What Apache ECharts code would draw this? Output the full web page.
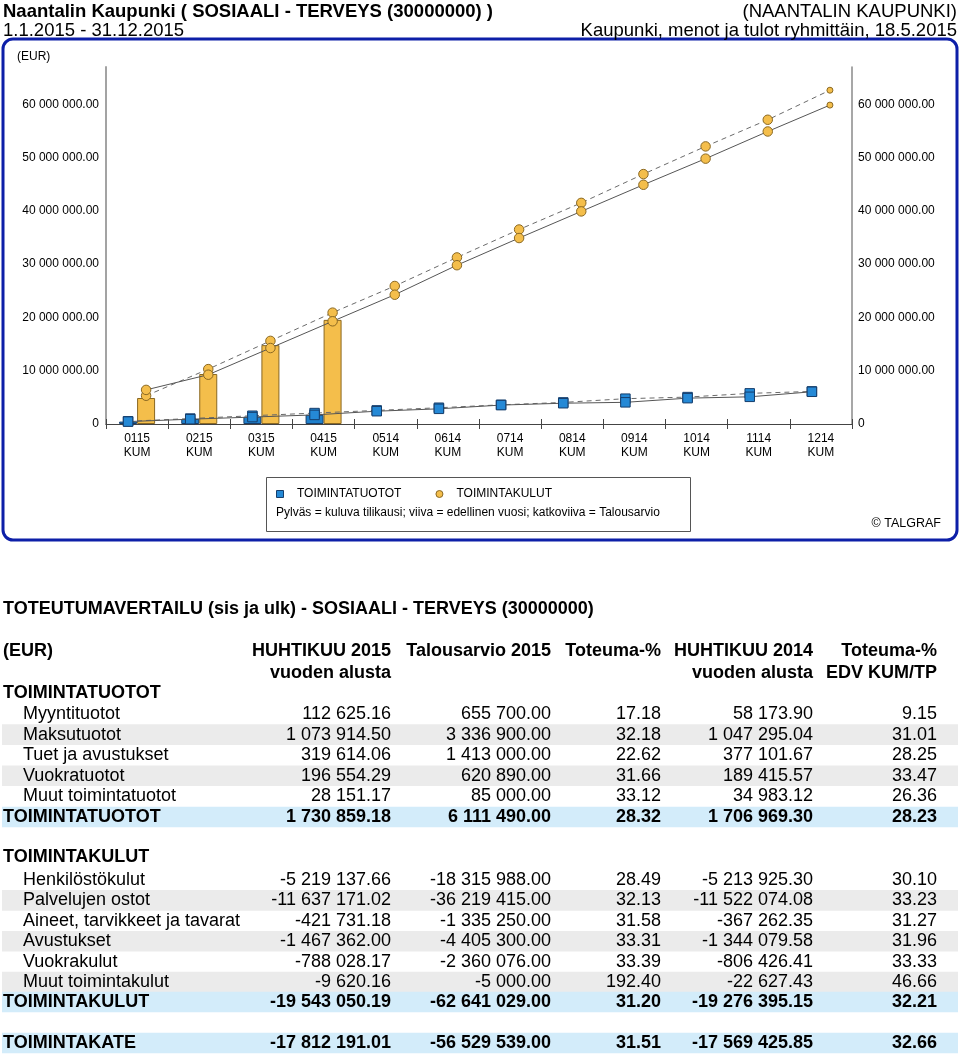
<!DOCTYPE html>
<html>
<head>
<meta charset="utf-8">
<script src="https://cdn.jsdelivr.net/npm/echarts@6/dist/echarts.min.js"></script>
<style>
html,body{margin:0;padding:0;background:#fff;}
#chart{width:960px;height:1058px;}
</style>
</head>
<body>
<div id="chart"></div>
<script>
// ---------- chart data ----------
const months = ['0115','0215','0315','0415','0514','0614','0714','0814','0914','1014','1114','1214'];
const tuotot2015 = [450000, 940000, 1370000, 1730859];
const kulut2015 = [4880000, 9380000, 14800000, 19543050];
const tuotot2014 = [450000, 900000, 1300000, 1706969, 2400000, 2850000, 3550000, 3900000, 4070000, 4850000, 5100000, 6047000];
const tuototTA = [510000, 1020000, 1550000, 2050000, 2550000, 3050000, 3600000, 4050000, 4750000, 5050000, 5750000, 6111490];
const kulut2014 = [6400000, 9250000, 14260000, 19276395, 24260000, 29800000, 34900000, 39900000, 44900000, 49800000, 54900000, 59850000];
const kulutTA = [5300000, 10300000, 15600000, 20900000, 25900000, 31260000, 36500000, 41500000, 46900000, 52100000, 57100000, 62641029];

// ---------- table data ----------
const headRow1 = ['(EUR)', 'HUHTIKUU 2015', 'Talousarvio 2015', 'Toteuma-%', 'HUHTIKUU 2014', 'Toteuma-%'];
const headRow2 = ['', 'vuoden alusta', '', '', 'vuoden alusta', 'EDV KUM/TP'];
const tuototLabels = ['Myyntituotot', 'Maksutuotot', 'Tuet ja avustukset', 'Vuokratuotot', 'Muut toimintatuotot'];
const tuototValues = [
  [112625.16, 655700.00, 17.18, 58173.90, 9.15],
  [1073914.50, 3336900.00, 32.18, 1047295.04, 31.01],
  [319614.06, 1413000.00, 22.62, 377101.67, 28.25],
  [196554.29, 620890.00, 31.66, 189415.57, 33.47],
  [28151.17, 85000.00, 33.12, 34983.12, 26.36]
];
const tuototTotal = [1730859.18, 6111490.00, 28.32, 1706969.30, 28.23];
const kulutLabels = ['Henkilöstökulut', 'Palvelujen ostot', 'Aineet, tarvikkeet ja tavarat', 'Avustukset', 'Vuokrakulut', 'Muut toimintakulut'];
const kulutValues = [
  [-5219137.66, -18315988.00, 28.49, -5213925.30, 30.10],
  [-11637171.02, -36219415.00, 32.13, -11522074.08, 33.23],
  [-421731.18, -1335250.00, 31.58, -367262.35, 31.27],
  [-1467362.00, -4405300.00, 33.31, -1344079.58, 31.96],
  [-788028.17, -2360076.00, 33.39, -806426.41, 33.33],
  [-9620.16, -5000.00, 192.40, -22627.43, 46.66]
];
const kulutTotal = [-19543050.19, -62641029.00, 31.20, -19276395.15, 32.21];
const kateTotal = [-17812191.01, -56529539.00, 31.51, -17569425.85, 32.66];

// ---------- helpers ----------
const FF = '"Liberation Sans", Arial, sans-serif';
function fmt(n) {
  const neg = n < 0;
  const parts = Math.abs(n).toFixed(2).split('.');
  const ip = parts[0].replace(/\B(?=(\d{3})+(?!\d))/g, ' ');
  return (neg ? '-' : '') + ip + '.' + parts[1];
}
function txt(x, y, s, opt) {
  opt = opt || {};
  const font = (opt.bold ? 'bold ' : '') + (opt.size || 18) + 'px ' + FF;
  return {
    type: 'text', x: x, y: y, silent: true, z: 10,
    style: {
      text: s, font: font, fill: opt.color || '#000',
      align: opt.align || 'left', verticalAlign: 'middle',
      textAlign: opt.align || 'left', textVerticalAlign: 'middle'
    }
  };
}
function band(y, color) {
  return { type: 'rect', silent: true, z: 1, shape: { x: 2, y: y - 10.3, width: 956, height: 20.6 }, style: { fill: color } };
}

const BLUE = '#1f80cc', BLUE_B = '#163e6c', BLUE_M = '#2589d6';
const YEL = '#f4be4b', YEL_B = '#8a6822';
const OFF = 0.145; // offset of each pair member from category centre (in category units)

// ---------- graphics (titles, frame, legend box, table) ----------
const g = [];
g.push(txt(3, 12, 'Naantalin Kaupunki ( SOSIAALI - TERVEYS (30000000) )', { bold: true, size: 18.5 }));
g.push(txt(957, 12, '(NAANTALIN KAUPUNKI)', { size: 18.5, align: 'right' }));
g.push(txt(3, 31, '1.1.2015 - 31.12.2015', { size: 18.5 }));
g.push(txt(957, 31, 'Kaupunki, menot ja tulot ryhmittäin, 18.5.2015', { size: 18.5, align: 'right' }));
g.push({ type: 'rect', silent: true, z: 0, shape: { x: 3, y: 39, width: 954, height: 501, r: 10 }, style: { fill: 'none', stroke: '#0d1fa8', lineWidth: 3 } });
g.push(txt(17, 57, '(EUR)', { size: 12 }));
g.push({ type: 'rect', silent: true, z: 0, shape: { x: 266.5, y: 477.5, width: 424, height: 54 }, style: { fill: '#fff', stroke: '#555', lineWidth: 1 } });
g.push(txt(276, 513, 'Pylväs = kuluva tilikausi; viiva = edellinen vuosi; katkoviiva = Talousarvio', { size: 12 }));
g.push(txt(941, 524, '© TALGRAF', { size: 12.5, align: 'right' }));

// table
const colRight = [391, 551, 661, 813, 937];
g.push(txt(3, 609, 'TOTEUTUMAVERTAILU (sis ja ulk) - SOSIAALI - TERVEYS (30000000)', { bold: true, size: 18 }));
g.push(txt(3, 651, headRow1[0], { bold: true }));
for (let c = 1; c < headRow1.length; c++) {
  g.push(txt(colRight[c - 1], 651, headRow1[c], { bold: true, align: 'right' }));
  if (headRow2[c]) g.push(txt(colRight[c - 1], 673, headRow2[c], { bold: true, align: 'right' }));
}
function dataRow(y, label, vals, opts) {
  if (opts.band) g.push(band(y, opts.band));
  g.push(txt(opts.indent ? 23 : 3, y, label, { bold: opts.bold }));
  vals.forEach((v, i) => g.push(txt(colRight[i], y, fmt(v), { bold: opts.bold, align: 'right' })));
}
const ROW = 20.6;
g.push(txt(3, 693, 'TOIMINTATUOTOT', { bold: true }));
tuototLabels.forEach((l, i) => dataRow(714 + i * ROW, l, tuototValues[i], { indent: true, band: i % 2 === 1 ? '#ebebeb' : null }));
dataRow(817, 'TOIMINTATUOTOT', tuototTotal, { bold: true, band: '#d3ecfa' });
g.push(txt(3, 857, 'TOIMINTAKULUT', { bold: true }));
kulutLabels.forEach((l, i) => dataRow(880 + i * 20.4, l, kulutValues[i], { indent: true, band: i % 2 === 1 ? '#ebebeb' : null }));
dataRow(1002, 'TOIMINTAKULUT', kulutTotal, { bold: true, band: '#d3ecfa' });
dataRow(1043, 'TOIMINTAKATE', kateTotal, { bold: true, band: '#d3ecfa' });

// ---------- chart ----------
const yLabelFmt = v => (v === 0 ? '0' : fmt(v));
const lineSeries = (name, arr, off, dashed, isCircle) => ({
  name: name, type: 'line', xAxisIndex: 1, yAxisIndex: 0, z: dashed ? 4 : 5,
  data: arr.map((v, i) => ({
    value: [i + off, v],
    symbolSize: isCircle ? (i === arr.length - 1 ? 6 : 9.5) : 9.5
  })),
  symbol: isCircle ? 'circle' : 'rect',
  showAllSymbol: true,
  lineStyle: { color: dashed ? '#6a6a6a' : '#555', width: 1, type: dashed ? [5, 4] : 'solid' },
  itemStyle: isCircle ? { color: YEL, borderColor: YEL_B, borderWidth: 1 } : { color: BLUE_M, borderColor: BLUE_B, borderWidth: 1 },
  emphasis: { disabled: true },
  animation: false
});

const chart = echarts.init(document.getElementById('chart'), null, { renderer: 'canvas' });
chart.setOption({
  animation: false,
  textStyle: { fontFamily: FF },
  grid: { left: 106, right: 108, top: 67, height: 357, containLabel: false },
  legend: {
    left: 271, top: 483, itemWidth: 24, itemHeight: 7, itemGap: 34, selectedMode: false,
    textStyle: { fontSize: 12, color: '#000', fontFamily: FF },
    data: [
      { name: 'TOIMINTATUOTOT', icon: 'path://M0,0H10V10H0Z', itemStyle: { color: BLUE_M, borderColor: BLUE_B, borderWidth: 1 } },
      { name: 'TOIMINTAKULUT', icon: 'circle', itemStyle: { color: YEL, borderColor: YEL_B, borderWidth: 1 } }
    ]
  },
  xAxis: [
    {
      type: 'category', data: months, position: 'bottom',
      axisLine: { onZero: false, lineStyle: { color: '#444', width: 1 } },
      axisTick: { show: true, length: 5, lineStyle: { color: '#444' } },
      axisLabel: { interval: 0, color: '#000', fontSize: 12, lineHeight: 14, margin: 8, formatter: v => v + '\nKUM' },
      splitLine: { show: false }
    },
    { type: 'value', min: -0.5, max: 11.5, show: false },
    {
      type: 'category', data: months, position: 'bottom',
      axisLine: { show: false, onZero: false },
      axisTick: { show: true, inside: true, length: 5, lineStyle: { color: '#444' } },
      axisLabel: { show: false }, splitLine: { show: false }
    }
  ],
  yAxis: [
    {
      type: 'value', min: 0, max: 67000000, interval: 10000000, position: 'left',
      axisLine: { show: true, onZero: false, lineStyle: { color: '#a3a3a3', width: 2 } },
      axisTick: { show: false }, splitLine: { show: false },
      axisLabel: { color: '#000', fontSize: 12, margin: 7, showMaxLabel: false, formatter: yLabelFmt }
    },
    {
      type: 'value', min: 0, max: 67000000, interval: 10000000, position: 'right',
      axisLine: { show: true, onZero: false, lineStyle: { color: '#8a8a8a', width: 1.5 } },
      axisTick: { show: false }, splitLine: { show: false },
      axisLabel: { color: '#000', fontSize: 12, margin: 6, showMaxLabel: false, formatter: yLabelFmt }
    }
  ],
  series: [
    { name: 'TOIMINTATUOTOT', type: 'bar', xAxisIndex: 0, yAxisIndex: 0, data: tuotot2015, barWidth: 18, barGap: '0%', z: 2,
      itemStyle: { color: BLUE, borderColor: BLUE_B, borderWidth: 1 }, emphasis: { disabled: true } },
    { name: 'TOIMINTAKULUT', type: 'bar', xAxisIndex: 0, yAxisIndex: 0, data: kulut2015, barWidth: 18, barGap: '0%', z: 2,
      itemStyle: { color: YEL, borderColor: YEL_B, borderWidth: 1 }, emphasis: { disabled: true } },
    lineSeries('TOIMINTATUOTOT talousarvio', tuototTA, -OFF, true, false),
    lineSeries('TOIMINTATUOTOT edellinen vuosi', tuotot2014, -OFF, false, false),
    lineSeries('TOIMINTAKULUT talousarvio', kulutTA, OFF, true, true),
    lineSeries('TOIMINTAKULUT edellinen vuosi', kulut2014, OFF, false, true)
  ],
  graphic: { elements: g }
});
</script>
</body>
</html>
